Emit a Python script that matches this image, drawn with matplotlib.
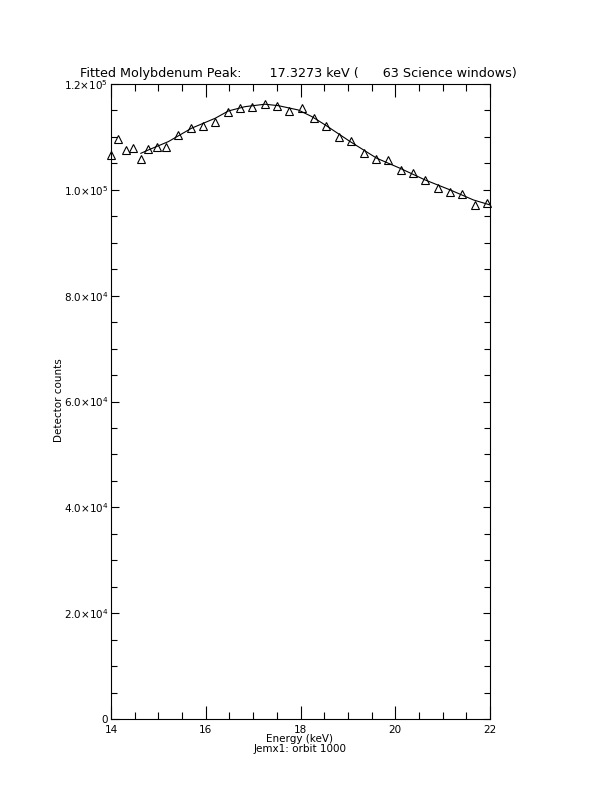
import matplotlib
matplotlib.use("Agg")
import matplotlib.pyplot as plt
from matplotlib.ticker import MultipleLocator, FixedLocator

# measured spectrum (keV, detector counts)
energy = [14.01, 14.15, 14.31, 14.47, 14.63, 14.79, 14.97, 15.16, 15.42, 15.69,
          15.94, 16.20, 16.46, 16.72, 16.98, 17.25, 17.51, 17.76, 18.03, 18.29,
          18.54, 18.81, 19.07, 19.33, 19.59, 19.85, 20.12, 20.37, 20.63, 20.90,
          21.16, 21.40, 21.68, 21.93]
counts = [106600, 109560, 107540, 107860, 105780, 107670, 108050, 108170, 110380, 111640,
          111980, 112890, 114780, 115540, 115720, 116180, 115860, 114910, 115420, 113650,
          112080, 110060, 109240, 106920, 105840, 105650, 103760, 103140, 101870, 100300,
          99660, 99230, 97150, 97470]

# fitted curve
fit_energy = [14.63, 14.79, 15.21, 15.70, 16.20, 16.48, 16.83, 17.25, 17.53, 17.95,
              18.24, 18.52, 19.05, 19.61, 20.10, 20.63, 21.16, 21.65, 22.00]
fit_counts = [106900, 107540, 109110, 111640, 113530, 114910, 115720, 116180, 115910, 115100,
              113840, 112270, 109110, 105970, 104080, 101870, 99980, 98090, 97150]

ytick_vals = [0, 20000, 40000, 60000, 80000, 100000, 120000]
ytick_labels = ["0", r"2.0$\times$10$^{4}$", r"4.0$\times$10$^{4}$", r"6.0$\times$10$^{4}$",
                r"8.0$\times$10$^{4}$", r"1.0$\times$10$^{5}$", r"1.2$\times$10$^{5}$"]
xtick_vals = [14, 16, 18, 20, 22]

fig = plt.figure(figsize=(6.12, 7.92), dpi=100)
ax = fig.add_axes([111 / 612, 1 - 719 / 792, 379 / 612, 635 / 792])

ax.plot(fit_energy, fit_counts, color="black", lw=0.8)
ax.plot(energy, counts, ls="none", marker="^", ms=6, mfc="none", mec="black",
        mew=0.8, clip_on=False)

ax.set_xlim(14, 22)
ax.set_ylim(0, 120000)
ax.xaxis.set_major_locator(FixedLocator(xtick_vals))
ax.xaxis.set_minor_locator(MultipleLocator(0.5))
ax.yaxis.set_major_locator(FixedLocator(ytick_vals))
ax.yaxis.set_minor_locator(MultipleLocator(5000))
ax.set_xticklabels([str(v) for v in xtick_vals])
ax.set_yticklabels(ytick_labels)

ax.tick_params(axis="both", which="both", direction="in", top=True, right=True,
               width=0.8, labelsize=7.5)
ax.tick_params(axis="x", which="major", length=9.4, pad=4)
ax.tick_params(axis="x", which="minor", length=4.7)
ax.tick_params(axis="y", which="major", length=5.4, pad=2)
ax.tick_params(axis="y", which="minor", length=4.3)
for s in ax.spines.values():
    s.set_linewidth(0.8)

fig.text(298 / 612, 1 - 73 / 792,
         "Fitted Molybdenum Peak:       17.3273 keV (      63 Science windows)",
         ha="center", va="center", fontsize=9.2)
fig.text(300 / 612, 1 - 739 / 792, "Energy (keV)", ha="center", va="center", fontsize=7.5)
fig.text(300 / 612, 1 - 749 / 792, "Jemx1: orbit 1000", ha="center", va="center", fontsize=7.5)
fig.text(59 / 612, 1 - 400 / 792, "Detector counts", ha="center", va="center",
         rotation=90, fontsize=7.5)

fig.savefig("out.png", dpi=100)
